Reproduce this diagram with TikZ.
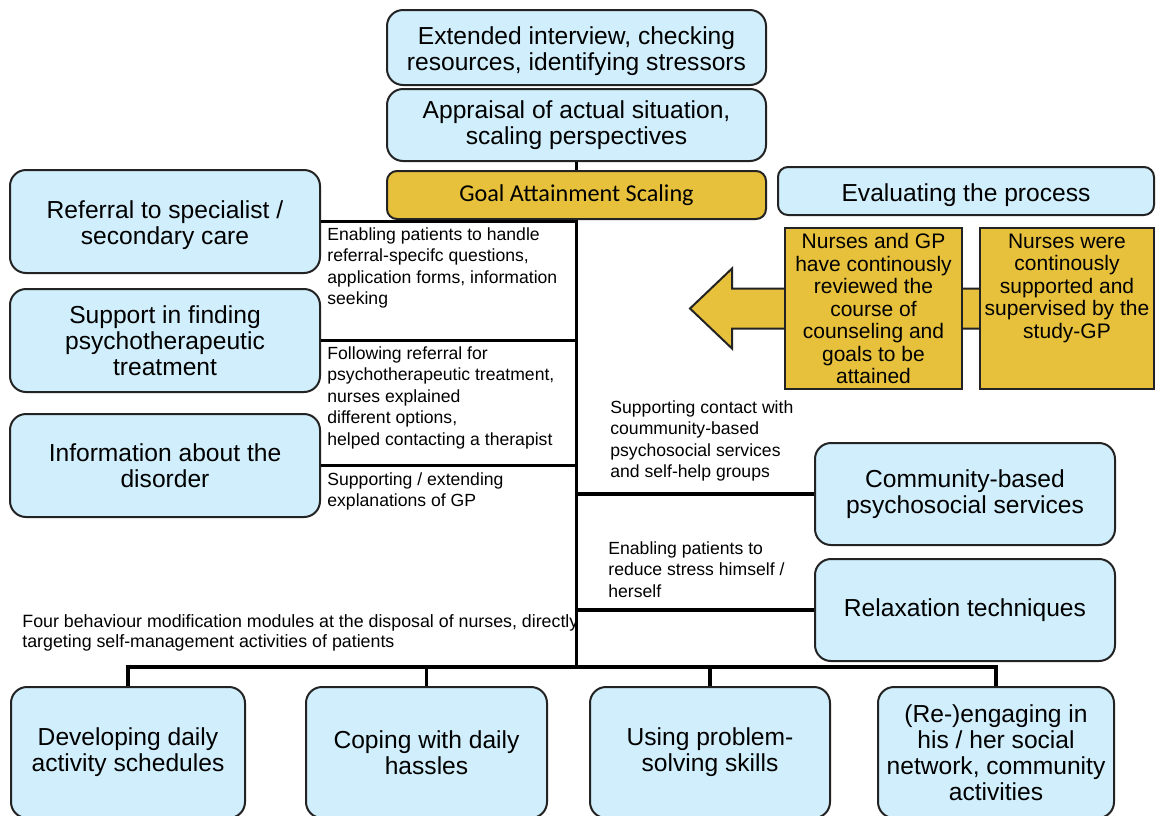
\documentclass[tikz,border=0pt]{standalone}
\usepackage{fontspec}
\setmainfont{Liberation Sans}
\newfontfamily\calibri{Carlito}
\usetikzlibrary{positioning, backgrounds}

\definecolor{paleblue}{RGB}{208,238,251}
\definecolor{gasgold}{RGB}{232,193,60}
\definecolor{edgegray}{RGB}{35,35,35}

\begin{document}
\begin{tikzpicture} [%
    x = 0.5pt, y = -0.5pt,
    every node/.style = {inner sep = 0pt},
    box/.style = {%
      draw = edgegray, line width = 1pt,
      fill = paleblue, rounded corners = 8pt,
      align = center,
      font = \fontsize{12.3}{13}\selectfont },
    goldbox/.style = {%
      draw = edgegray, line width = 1pt,
      fill = gasgold, align = center,
      minimum height = 80.5pt,
      font = \fontsize{10.5}{11.25}\selectfont },
    note/.style = {%
      anchor = north west, align = left,
      font = \fontsize{8.8}{10.8}\selectfont },
    spine/.style = {line width = 1.6pt, black}
  ]

\useasboundingbox (0,0) rectangle (1156,815);
\clip (0,0) rectangle (1156,815);

% assessment column
\node[box, minimum width = 189.5pt, minimum height = 37.5pt] (interview) at (576.5,47.5)
  {\rule{0pt}{13pt}Extended interview, checking\\resources, identifying stressors};
\node[box, minimum width = 189.5pt, minimum height = 36pt] (appraisal) [below = 1pt of interview]
  {Appraisal of actual situation,\\scaling perspectives};
\node[box, fill = gasgold, rounded corners = 5pt, minimum width = 189.5pt, minimum height = 24pt,
  font = \calibri\fontsize{12.1}{13}\selectfont] (gas) [below = 4pt of appraisal] {Goal Attainment Scaling};
\node[box, rounded corners = 5pt, minimum width = 188pt, minimum height = 24pt,
  execute at begin node = \rule{0pt}{1.05em}] (evaluate) at (966,191)
  {Evaluating the process};

% evaluation boxes
\node[goldbox, minimum width = 88.5pt] (reviewed) at (873.5,308.5)
  {Nurses and GP\\have continously\\reviewed the\\course of\\counseling and\\goals to be\\attained};
\node[goldbox, minimum width = 87pt] (supervised) [right = 8pt of reviewed]
  {Nurses were\\continously\\supported and\\supervised by the\\study-GP\\~\\~};

% left side
\node[box, minimum width = 155pt, minimum height = 51.5pt] (referral) at (165,221.5)
  {\rule{0pt}{13pt}Referral to specialist /\\secondary care};
\node[box, minimum width = 155pt, minimum height = 51.5pt] (psycho) [below = 7pt of referral]
  {Support in finding\\psychotherapeutic\\treatment};
\node[box, minimum width = 155pt, minimum height = 51.5pt] (disorder) [below = 10pt of psycho]
  {Information about the\\disorder};

% right side
\node[box, minimum width = 150pt, minimum height = 51pt] (community) at (965,494)
  {Community-based\\psychosocial services};
\node[box, minimum width = 150pt, minimum height = 51pt] (relax) [below = 6pt of community]
  {Relaxation techniques};

% modules
\node[box, minimum width = 117pt, minimum height = 65.5pt] (daily) at (128,752.5)
  {Developing daily\\activity schedules};
\node[box, minimum width = 120.5pt, minimum height = 65.5pt] (hassles) at (426.5,752.5)
  {Coping with daily\\hassles};
\node[box, minimum width = 120pt, minimum height = 65.5pt] (problem) at (710,752.5)
  {Using problem-\\solving skills};
\node[box, minimum width = 118pt, minimum height = 65.5pt] (social) at (996,752.5)
  {(Re-)engaging in\\his / her social\\network, community\\activities};

% notes
\node[note] (referralnote) at (327,227)
  {Enabling patients to handle\\referral-specifc questions,\\application forms, information\\seeking};
\node[note] (psychonote) at (327,346)
  {Following referral for\\psychotherapeutic treatment,\\nurses explained\\different options,\\helped contacting a therapist};
\node[note] (disordernote) at (327,472)
  {Supporting / extending\\explanations of GP};
\node[note] (communitynote) at (610,400)
  {Supporting contact with\\coummunity-based\\psychosocial services\\and self-help groups};
\node[note] (relaxnote) at (608,541)
  {Enabling patients to\\reduce stress himself /\\herself};
\node[note, font = \fontsize{8.9}{10}\selectfont] (modulenote) at (22,614)
  {Four behaviour modification modules at the disposal of nurses, directly\\targeting self-management activities of patients};

% block arrow behind the evaluation boxes
\coordinate (tip) at (690,308.5);
\begin{scope}[on background layer]
\draw[fill = gasgold, draw = edgegray, line width = 1pt]
  (tip) -- (732,268.5) -- (732,288.5) -- (980,288.5) -- (980,328.5)
  -- (732,328.5) -- (732,348.5) -- cycle;
\end{scope}

% spine
\coordinate (bus) at (576.5,667);
\draw[spine] (appraisal.south) -- (gas.north);
\draw[spine] (gas.south) -- (bus);
\draw[spine] (referral.east) -- (referral.east -| gas.south);
\draw[spine] (psycho.east) -- (psycho.east -| gas.south);
\draw[spine] (disorder.east) -- (disorder.east -| gas.south);
\draw[spine] (community.west) -- (community.west -| gas.south);
\draw[spine] (relax.west) -- (relax.west -| gas.south);
\draw[spine] (daily.north) |- (bus) -| (social.north);
\draw[spine] (hassles.north) -- (hassles.north |- bus);
\draw[spine] (problem.north) -- (problem.north |- bus);

\end{tikzpicture}
\end{document}
